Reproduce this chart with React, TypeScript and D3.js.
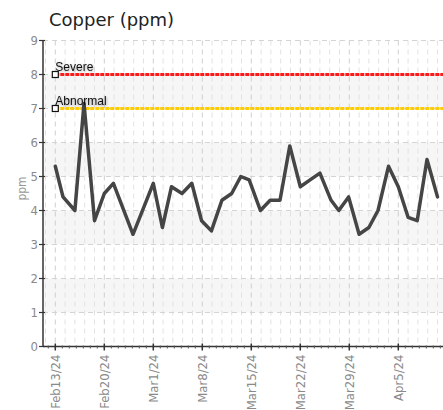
import React from "react";
import * as d3 from "d3";

const title = "Copper (ppm)";
const yLabel = "ppm";
// days since first sample
const sampleDays = [0, 1.1, 2.8, 4.1, 5.6, 7, 8.3, 11.1, 14, 15.3, 16.6, 18.1, 19.5, 20.9, 22.3, 23.8, 25.2, 26.5, 27.7, 29.3, 30.7, 32.1, 33.5, 35.0, 36.4, 37.8, 39.4, 40.5, 41.9, 43.4, 44.8, 46.1, 47.6, 49, 50.4, 51.7, 53.1, 54.6];
const copperValues = [5.3, 4.4, 4.0, 7.15, 3.7, 4.5, 4.8, 3.3, 4.8, 3.5, 4.7, 4.5, 4.8, 3.7, 3.4, 4.3, 4.5, 5.0, 4.9, 4.0, 4.3, 4.3, 5.9, 4.7, 4.9, 5.1, 4.3, 4.0, 4.4, 3.3, 3.5, 4.0, 5.3, 4.7, 3.8, 3.7, 5.5, 4.4];
const tickDays = [0, 7, 14, 21, 28, 35, 42, 49];
const tickLabels = ["Feb13/24", "Feb20/24", "Mar1/24", "Mar8/24", "Mar15/24", "Mar22/24", "Mar29/24", "Apr5/24"];
const yTicks = [0, 1, 2, 3, 4, 5, 6, 7, 8, 9];
const bands = [[1, 2], [3, 4], [5, 6], [7, 8]];
const thresholdNames = ["Severe", "Abnormal"];
const thresholdValues = [8, 7];
const thresholdColors = ["#ff1a1a", "#ffcc00"];

const W = 443, H = 410;
const left = 43, right = 443, top = 40.5, bottom = 346.5;
const condensed = "'Liberation Sans Narrow', 'DejaVu Sans Condensed', 'Roboto', sans-serif";

export default function App() {
  const x = d3.scaleLinear().domain([0, 49]).range([55.3, 398.3]);
  const y = d3.scaleLinear().domain([0, 9]).range([bottom, top]);
  const dMin = x.invert(left), dMax = x.invert(right);
  const minorTicks = d3.range(Math.ceil(dMin), Math.floor(dMax) + 1);
  const minorGrid = d3.range(Math.ceil(dMin / 1.4) * 1.4, dMax, 1.4).filter(d => Math.abs(d / 7 - Math.round(d / 7)) > 0.01);
  const line = d3.line<number>().x((_, i) => x(sampleDays[i])).y(d => y(d));

  return (
    <svg width={W} height={H} style={{ position: "absolute", left: 0, top: 0, background: "#fff" }}>
      <defs>
        <clipPath id="plot"><rect x={left} y={top - 2} width={right - left} height={bottom - top + 2} /></clipPath>
        <filter id="sh" x="-10%" y="-30%" width="130%" height="160%">
          <feGaussianBlur in="SourceAlpha" stdDeviation="0.8" />
          <feOffset dx="1" dy="1" result="b" />
          <feComponentTransfer><feFuncA type="linear" slope="0.35" /></feComponentTransfer>
          <feMerge><feMergeNode /><feMergeNode in="SourceGraphic" /></feMerge>
        </filter>
      </defs>
      <text x={49} y={26} fontFamily="'DejaVu Sans', sans-serif" fontSize={18} fill="#222">{title}</text>
      <g clipPath="url(#plot)">
        {bands.map((b, i) => (
          <rect key={i} x={left} y={y(b[1])} width={right - left} height={y(b[0]) - y(b[1])} fill="#f6f6f6" />
        ))}
        {minorGrid.map((d, i) => (
          <line key={"mg" + i} x1={x(d)} x2={x(d)} y1={top} y2={bottom} stroke="#e2e2e2" strokeDasharray="5,4" />
        ))}
        {tickDays.map((d, i) => (
          <line key={"Mg" + i} x1={x(d)} x2={x(d)} y1={top} y2={bottom} stroke="#cfcfcf" strokeDasharray="5,4" />
        ))}
        {yTicks.slice(1).map(v => (
          <line key={"hg" + v} x1={left} x2={right} y1={y(v)} y2={y(v)} stroke="#d4d4d4" strokeDasharray="5,4" />
        ))}
        {thresholdValues.map((v, i) => (
          <line key={"th" + i} x1={x(0)} x2={right} y1={y(v)} y2={y(v)} stroke={thresholdColors[i]} strokeWidth={3} strokeDasharray="4,1" />
        ))}
        <path d={line(copperValues) || ""} fill="none" stroke="#454545" strokeWidth={3.5} strokeLinejoin="round" strokeLinecap="round" />
      </g>
      {thresholdValues.map((v, i) => (
        <g key={"tl" + i}>
          <rect x={x(0) - 3} y={y(v) - 3} width={6} height={6} fill="#fff" stroke="#111" strokeWidth={1.2} />
          <text x={x(0)} y={y(v) - 4} fontFamily="'Liberation Sans', Arial, sans-serif" fontSize={12} fill="#111" filter="url(#sh)">{thresholdNames[i]}</text>
        </g>
      ))}
      {/* y axis */}
      <line x1={left} x2={left} y1={top} y2={bottom} stroke="#333" strokeWidth={1.5} />
      {yTicks.map(v => (
        <g key={"yt" + v}>
          <line x1={left - 4} x2={left + 2} y1={y(v)} y2={y(v)} stroke="#333" strokeWidth={1.2} />
          <text x={38} y={y(v)} dy="0.36em" textAnchor="end" fontFamily={condensed} fontSize={13} fill="#8a8a8a">{v}</text>
        </g>
      ))}
      <text transform={`translate(26,${(top + bottom) / 2 - 5}) rotate(-90)`} textAnchor="middle" fontFamily={condensed} fontSize={12} fill="#999">{yLabel}</text>
      {/* x axis */}
      <line x1={left} x2={right} y1={bottom} y2={bottom} stroke="#333" strokeWidth={1.5} />
      {minorTicks.map(d => (
        <line key={"mt" + d} x1={x(d)} x2={x(d)} y1={bottom - 1} y2={bottom + 2} stroke="#555" strokeWidth={1} />
      ))}
      {tickDays.map((d, i) => (
        <g key={"xt" + i}>
          <line x1={x(d)} x2={x(d)} y1={bottom - 3} y2={bottom + 4} stroke="#333" strokeWidth={1.5} />
          <text transform={`translate(${x(d)},${bottom + 8}) rotate(-90)`} textAnchor="end" dy="0.36em" fontFamily={condensed} fontSize={13} fill="#8a8a8a">{tickLabels[i]}</text>
        </g>
      ))}
    </svg>
  );
}
